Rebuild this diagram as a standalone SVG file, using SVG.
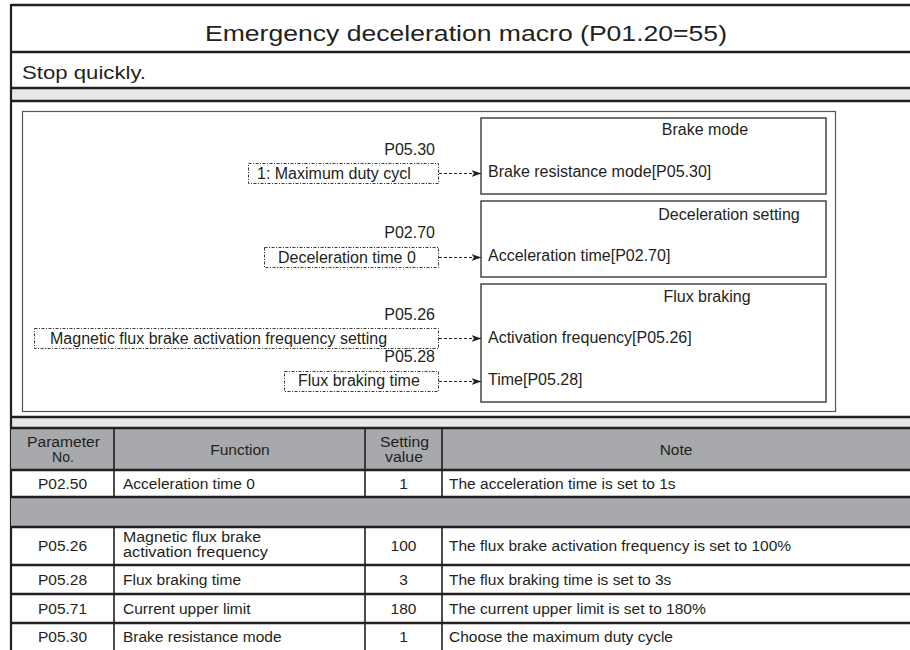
<svg xmlns="http://www.w3.org/2000/svg" width="910" height="650" viewBox="0 0 910 650">
<style>
text{font-family:"Liberation Sans",Arial,sans-serif;fill:#231f20}
.t16{font-size:16px}
.t15{font-size:15.5px}
.t14{font-size:14px}
.hl{stroke:#231f20;stroke-width:2.4;fill:none}
.vl{stroke:#231f20;stroke-width:1.6;fill:none}
.band{fill:#e6e7e8}
.dark{fill:#a7a9ac}
.node{fill:#fff;stroke:#3a3a3a;stroke-width:1.4}
.inbox{fill:#fff;stroke:#3a3a3a;stroke-width:1;stroke-dasharray:3 1.5 1 1.5}
.conn{stroke:#231f20;stroke-width:1;stroke-dasharray:3 2;fill:none}
.mid{text-anchor:middle}
.end{text-anchor:end}
</style>
<defs>
<marker id="arr" markerWidth="10" markerHeight="8" refX="9.5" refY="4" orient="auto" markerUnits="userSpaceOnUse">
<path d="M0,0.5 L10,4 L0,7.5 L2.5,4 z" fill="#231f20"/>
</marker>
</defs>
<rect width="910" height="650" fill="#fff"/>

<g id="header">
<rect class="band" x="11" y="88" width="899" height="13"/>
<rect class="band" x="11" y="417" width="899" height="11"/>
<line class="hl" x1="11" y1="5" x2="910" y2="5"/>
<line class="hl" x1="11" y1="52" x2="910" y2="52"/>
<line class="hl" x1="11" y1="88" x2="910" y2="88"/>
<line class="hl" x1="11" y1="101" x2="910" y2="101"/>
<line class="hl" x1="11" y1="417" x2="910" y2="417"/>
<line class="vl" x1="11" y1="4" x2="11" y2="650" style="stroke-width:2.2"/>
<text x="205" y="41" font-size="22.5" textLength="522" lengthAdjust="spacingAndGlyphs">Emergency deceleration macro (P01.20=55)</text>
<text x="22" y="79" font-size="18" textLength="124" lengthAdjust="spacingAndGlyphs">Stop quickly.</text>
</g>

<g id="diagram-frame">
<rect x="22.5" y="111.5" width="813" height="300" fill="#fff" stroke="#555" stroke-width="1.2"/>
</g>

<g id="node-brake-mode">
<rect class="node" x="481" y="118" width="345" height="76"/>
<text class="t16 mid" x="705" y="135">Brake mode</text>
<text class="t16" x="488" y="177">Brake resistance mode[P05.30]</text>
</g>

<g id="node-deceleration-setting">
<rect class="node" x="481" y="201" width="345" height="76"/>
<text class="t16 mid" x="729" y="220">Deceleration setting</text>
<text class="t16" x="488" y="261">Acceleration time[P02.70]</text>
</g>

<g id="node-flux-braking">
<rect class="node" x="481" y="284" width="345" height="118"/>
<text class="t16 mid" x="707" y="302">Flux braking</text>
<text class="t16" x="488" y="343">Activation frequency[P05.26]</text>
<text class="t16" x="488" y="385">Time[P05.28]</text>
</g>

<g id="input-p0530">
<text class="t16 end" x="435" y="155">P05.30</text>
<rect class="inbox" x="248.5" y="163.5" width="190" height="20"/>
<text class="t16" x="257" y="179">1: Maximum duty cycl</text>
</g>

<g id="input-p0270">
<text class="t16 end" x="435" y="238">P02.70</text>
<rect class="inbox" x="264.5" y="247.5" width="174" height="20"/>
<text class="t16" x="278" y="263">Deceleration time 0</text>
</g>

<g id="input-p0526">
<text class="t16 end" x="435" y="320">P05.26</text>
<rect class="inbox" x="34.5" y="328.5" width="404" height="20"/>
<text class="t16" x="50" y="344">Magnetic flux brake activation frequency setting</text>
</g>

<g id="input-p0528">
<text class="t16 end" x="435" y="362">P05.28</text>
<rect class="inbox" x="284.5" y="371.5" width="154" height="20"/>
<text class="t16" x="298" y="386">Flux braking time</text>
</g>

<g id="connectors">
<line class="conn" x1="439" y1="173.5" x2="481" y2="173.5" marker-end="url(#arr)"/>
<line class="conn" x1="439" y1="257.5" x2="481" y2="257.5" marker-end="url(#arr)"/>
<line class="conn" x1="439" y1="338.5" x2="481" y2="338.5" marker-end="url(#arr)"/>
<line class="conn" x1="439" y1="381.5" x2="481" y2="381.5" marker-end="url(#arr)"/>
</g>

<g id="table">
<rect class="dark" x="11" y="428" width="899" height="42"/>
<rect class="dark" x="11" y="497" width="899" height="30"/>
<line class="hl" x1="11" y1="428" x2="910" y2="428"/>
<line class="hl" x1="11" y1="470" x2="910" y2="470"/>
<line class="hl" x1="11" y1="497" x2="910" y2="497"/>
<line class="hl" x1="11" y1="527" x2="910" y2="527"/>
<line class="hl" x1="11" y1="565" x2="910" y2="565"/>
<line class="hl" x1="11" y1="594" x2="910" y2="594"/>
<line class="hl" x1="11" y1="623" x2="910" y2="623"/>
<g class="vl">
<line x1="114" y1="428" x2="114" y2="497"/>
<line x1="365" y1="428" x2="365" y2="497"/>
<line x1="442" y1="428" x2="442" y2="497"/>
<line x1="114" y1="527" x2="114" y2="650"/>
<line x1="365" y1="527" x2="365" y2="650"/>
<line x1="442" y1="527" x2="442" y2="650"/>
</g>
<g class="t15">
<text class="t14" x="27" y="447" textLength="73" lengthAdjust="spacingAndGlyphs">Parameter</text>
<text class="t14 mid" x="63" y="462">No.</text>
<text class="mid" x="240" y="455">Function</text>
<text class="t14" x="380" y="447" textLength="49" lengthAdjust="spacingAndGlyphs">Setting</text>
<text class="t14" x="385" y="462" textLength="38" lengthAdjust="spacingAndGlyphs">value</text>
<text class="mid" x="676" y="455">Note</text>

<text class="mid" x="62.5" y="489">P02.50</text>
<text x="123" y="489">Acceleration time 0</text>
<text class="mid" x="403.5" y="489">1</text>
<text x="449" y="489">The acceleration time is set to 1s</text>

<text class="mid" x="62.5" y="551">P05.26</text>
<text class="t14" x="123" y="542" textLength="138" lengthAdjust="spacingAndGlyphs">Magnetic flux brake</text>
<text class="t14" x="123" y="557" textLength="145" lengthAdjust="spacingAndGlyphs">activation frequency</text>
<text class="mid" x="403.5" y="551">100</text>
<text x="449" y="551">The flux brake activation frequency is set to 100%</text>

<text class="mid" x="62.5" y="585">P05.28</text>
<text x="123" y="585">Flux braking time</text>
<text class="mid" x="403.5" y="585">3</text>
<text x="449" y="585">The flux braking time is set to 3s</text>

<text class="mid" x="62.5" y="614">P05.71</text>
<text x="123" y="614">Current upper limit</text>
<text class="mid" x="403.5" y="614">180</text>
<text x="449" y="614">The current upper limit is set to 180%</text>

<text class="mid" x="62.5" y="642">P05.30</text>
<text x="123" y="642">Brake resistance mode</text>
<text class="mid" x="403.5" y="642">1</text>
<text x="449" y="642">Choose the maximum duty cycle</text>
</g>
</g>
</svg>
